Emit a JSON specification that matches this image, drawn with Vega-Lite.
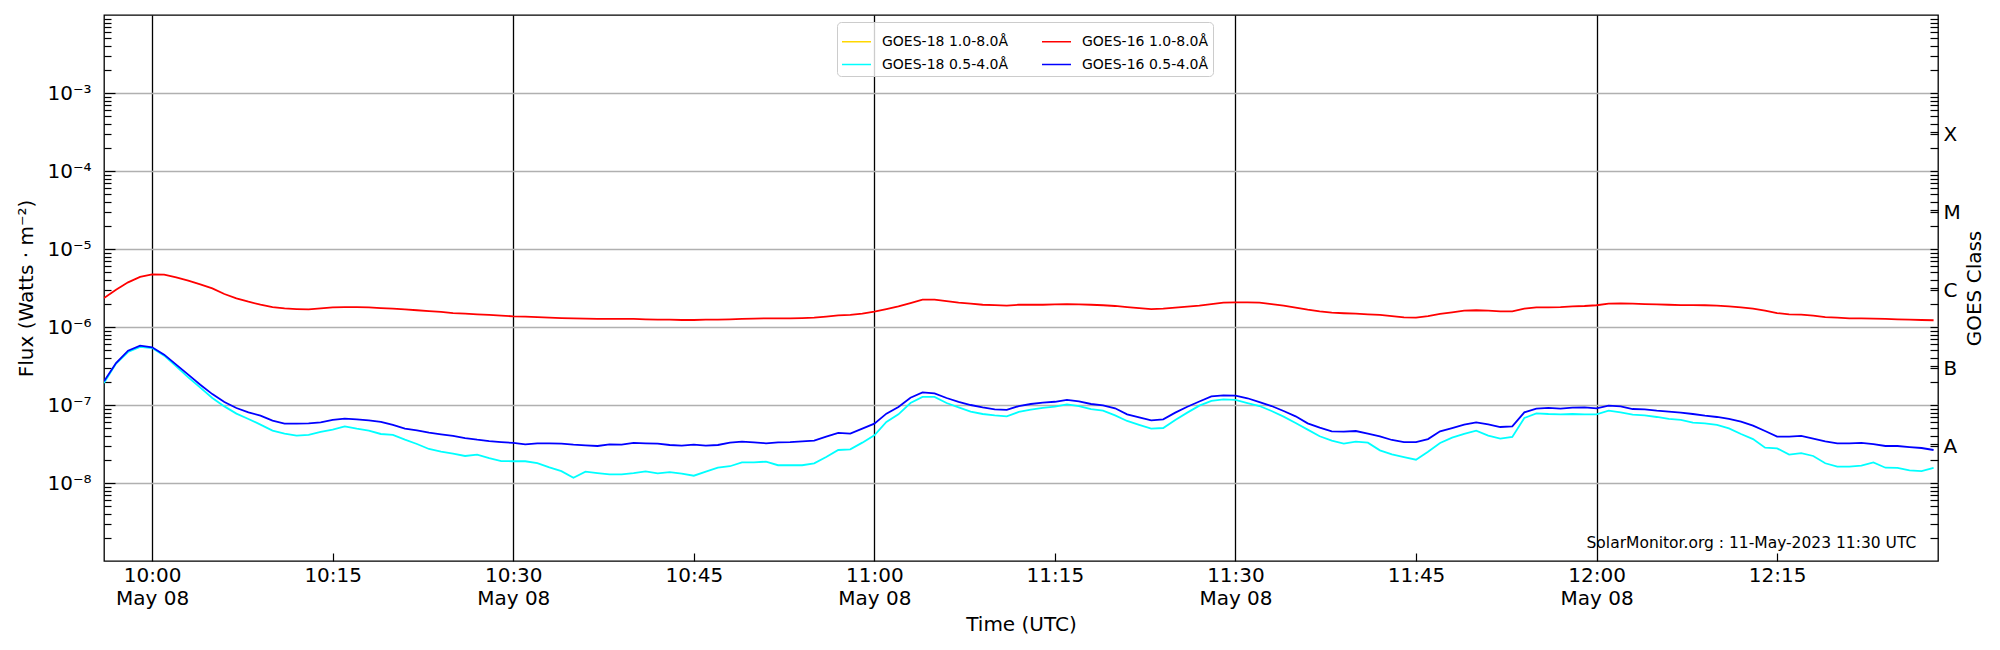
{
  "$schema": "https://vega.github.io/schema/vega-lite/v6.json",
  "width": 1834,
  "height": 546,
  "autosize": "none",
  "padding": {"left": 104, "top": 15, "right": 62, "bottom": 89},
  "background": "white",
  "config": {
    "font": "DejaVu Sans",
    "view": {"stroke": "black", "strokeWidth": 1.3},
    "axis": {
      "labelFont": "DejaVu Sans",
      "titleFont": "DejaVu Sans",
      "labelFontSize": 20,
      "titleFontSize": 20,
      "titleFontWeight": "normal",
      "labelColor": "black",
      "titleColor": "black",
      "tickColor": "black",
      "tickWidth": 1.2,
      "domain": false,
      "labelOverlap": false,
      "labelFlush": false
    },
    "legend": {
      "labelFont": "DejaVu Sans",
      "labelFontSize": 14,
      "labelColor": "black"
    }
  },
  "data": {
    "values": [
      {"t": "2023-05-08T09:56:00Z", "g16l": 2.35e-6, "g16s": 2.01e-7, "g18s": 1.91e-7},
      {"t": "2023-05-08T09:57:00Z", "g16l": 3.01e-6, "g16s": 3.45e-7, "g18s": 3.39e-7},
      {"t": "2023-05-08T09:58:00Z", "g16l": 3.74e-6, "g16s": 4.97e-7, "g18s": 4.78e-7},
      {"t": "2023-05-08T09:59:00Z", "g16l": 4.38e-6, "g16s": 5.77e-7, "g18s": 5.55e-7},
      {"t": "2023-05-08T10:00:00Z", "g16l": 4.73e-6, "g16s": 5.49e-7, "g18s": 5.38e-7},
      {"t": "2023-05-08T10:01:00Z", "g16l": 4.69e-6, "g16s": 4.42e-7, "g18s": 4.29e-7},
      {"t": "2023-05-08T10:02:00Z", "g16l": 4.33e-6, "g16s": 3.29e-7, "g18s": 3.13e-7},
      {"t": "2023-05-08T10:03:00Z", "g16l": 3.93e-6, "g16s": 2.45e-7, "g18s": 2.26e-7},
      {"t": "2023-05-08T10:04:00Z", "g16l": 3.52e-6, "g16s": 1.82e-7, "g18s": 1.67e-7},
      {"t": "2023-05-08T10:05:00Z", "g16l": 3.13e-6, "g16s": 1.38e-7, "g18s": 1.23e-7},
      {"t": "2023-05-08T10:06:00Z", "g16l": 2.65e-6, "g16s": 1.09e-7, "g18s": 9.60e-8},
      {"t": "2023-05-08T10:07:00Z", "g16l": 2.33e-6, "g16s": 9.16e-8, "g18s": 7.75e-8},
      {"t": "2023-05-08T10:08:00Z", "g16l": 2.11e-6, "g16s": 8.06e-8, "g18s": 6.62e-8},
      {"t": "2023-05-08T10:09:00Z", "g16l": 1.93e-6, "g16s": 7.30e-8, "g18s": 5.60e-8},
      {"t": "2023-05-08T10:10:00Z", "g16l": 1.80e-6, "g16s": 6.30e-8, "g18s": 4.69e-8},
      {"t": "2023-05-08T10:11:00Z", "g16l": 1.73e-6, "g16s": 5.77e-8, "g18s": 4.29e-8},
      {"t": "2023-05-08T10:12:00Z", "g16l": 1.70e-6, "g16s": 5.77e-8, "g18s": 4.05e-8},
      {"t": "2023-05-08T10:13:00Z", "g16l": 1.68e-6, "g16s": 5.82e-8, "g18s": 4.13e-8},
      {"t": "2023-05-08T10:14:00Z", "g16l": 1.73e-6, "g16s": 6.00e-8, "g18s": 4.51e-8},
      {"t": "2023-05-08T10:15:00Z", "g16l": 1.79e-6, "g16s": 6.43e-8, "g18s": 4.83e-8},
      {"t": "2023-05-08T10:16:00Z", "g16l": 1.80e-6, "g16s": 6.68e-8, "g18s": 5.33e-8},
      {"t": "2023-05-08T10:17:00Z", "g16l": 1.80e-6, "g16s": 6.55e-8, "g18s": 4.97e-8},
      {"t": "2023-05-08T10:18:00Z", "g16l": 1.79e-6, "g16s": 6.36e-8, "g18s": 4.69e-8},
      {"t": "2023-05-08T10:19:00Z", "g16l": 1.75e-6, "g16s": 6.06e-8, "g18s": 4.25e-8},
      {"t": "2023-05-08T10:20:00Z", "g16l": 1.72e-6, "g16s": 5.55e-8, "g18s": 4.13e-8},
      {"t": "2023-05-08T10:21:00Z", "g16l": 1.68e-6, "g16s": 4.97e-8, "g18s": 3.59e-8},
      {"t": "2023-05-08T10:22:00Z", "g16l": 1.64e-6, "g16s": 4.73e-8, "g18s": 3.16e-8},
      {"t": "2023-05-08T10:23:00Z", "g16l": 1.60e-6, "g16s": 4.42e-8, "g18s": 2.73e-8},
      {"t": "2023-05-08T10:24:00Z", "g16l": 1.56e-6, "g16s": 4.21e-8, "g18s": 2.52e-8},
      {"t": "2023-05-08T10:25:00Z", "g16l": 1.51e-6, "g16s": 4.01e-8, "g18s": 2.38e-8},
      {"t": "2023-05-08T10:26:00Z", "g16l": 1.48e-6, "g16s": 3.77e-8, "g18s": 2.22e-8},
      {"t": "2023-05-08T10:27:00Z", "g16l": 1.45e-6, "g16s": 3.59e-8, "g18s": 2.31e-8},
      {"t": "2023-05-08T10:28:00Z", "g16l": 1.43e-6, "g16s": 3.45e-8, "g18s": 2.09e-8},
      {"t": "2023-05-08T10:29:00Z", "g16l": 1.40e-6, "g16s": 3.35e-8, "g18s": 1.91e-8},
      {"t": "2023-05-08T10:30:00Z", "g16l": 1.37e-6, "g16s": 3.26e-8, "g18s": 1.90e-8},
      {"t": "2023-05-08T10:31:00Z", "g16l": 1.36e-6, "g16s": 3.13e-8, "g18s": 1.90e-8},
      {"t": "2023-05-08T10:32:00Z", "g16l": 1.34e-6, "g16s": 3.23e-8, "g18s": 1.80e-8},
      {"t": "2023-05-08T10:33:00Z", "g16l": 1.32e-6, "g16s": 3.23e-8, "g18s": 1.59e-8},
      {"t": "2023-05-08T10:34:00Z", "g16l": 1.30e-6, "g16s": 3.20e-8, "g18s": 1.42e-8},
      {"t": "2023-05-08T10:35:00Z", "g16l": 1.29e-6, "g16s": 3.10e-8, "g18s": 1.17e-8},
      {"t": "2023-05-08T10:36:00Z", "g16l": 1.28e-6, "g16s": 3.04e-8, "g18s": 1.40e-8},
      {"t": "2023-05-08T10:37:00Z", "g16l": 1.27e-6, "g16s": 2.98e-8, "g18s": 1.34e-8},
      {"t": "2023-05-08T10:38:00Z", "g16l": 1.27e-6, "g16s": 3.13e-8, "g18s": 1.29e-8},
      {"t": "2023-05-08T10:39:00Z", "g16l": 1.27e-6, "g16s": 3.10e-8, "g18s": 1.29e-8},
      {"t": "2023-05-08T10:40:00Z", "g16l": 1.27e-6, "g16s": 3.26e-8, "g18s": 1.34e-8},
      {"t": "2023-05-08T10:41:00Z", "g16l": 1.25e-6, "g16s": 3.23e-8, "g18s": 1.41e-8},
      {"t": "2023-05-08T10:42:00Z", "g16l": 1.24e-6, "g16s": 3.20e-8, "g18s": 1.33e-8},
      {"t": "2023-05-08T10:43:00Z", "g16l": 1.24e-6, "g16s": 3.07e-8, "g18s": 1.38e-8},
      {"t": "2023-05-08T10:44:00Z", "g16l": 1.23e-6, "g16s": 3.01e-8, "g18s": 1.32e-8},
      {"t": "2023-05-08T10:45:00Z", "g16l": 1.23e-6, "g16s": 3.10e-8, "g18s": 1.24e-8},
      {"t": "2023-05-08T10:46:00Z", "g16l": 1.24e-6, "g16s": 3.01e-8, "g18s": 1.40e-8},
      {"t": "2023-05-08T10:47:00Z", "g16l": 1.24e-6, "g16s": 3.07e-8, "g18s": 1.57e-8},
      {"t": "2023-05-08T10:48:00Z", "g16l": 1.25e-6, "g16s": 3.29e-8, "g18s": 1.64e-8},
      {"t": "2023-05-08T10:49:00Z", "g16l": 1.27e-6, "g16s": 3.39e-8, "g18s": 1.84e-8},
      {"t": "2023-05-08T10:50:00Z", "g16l": 1.28e-6, "g16s": 3.32e-8, "g18s": 1.84e-8},
      {"t": "2023-05-08T10:51:00Z", "g16l": 1.29e-6, "g16s": 3.23e-8, "g18s": 1.88e-8},
      {"t": "2023-05-08T10:52:00Z", "g16l": 1.29e-6, "g16s": 3.32e-8, "g18s": 1.69e-8},
      {"t": "2023-05-08T10:53:00Z", "g16l": 1.29e-6, "g16s": 3.35e-8, "g18s": 1.69e-8},
      {"t": "2023-05-08T10:54:00Z", "g16l": 1.30e-6, "g16s": 3.42e-8, "g18s": 1.69e-8},
      {"t": "2023-05-08T10:55:00Z", "g16l": 1.32e-6, "g16s": 3.49e-8, "g18s": 1.79e-8},
      {"t": "2023-05-08T10:56:00Z", "g16l": 1.36e-6, "g16s": 3.93e-8, "g18s": 2.15e-8},
      {"t": "2023-05-08T10:57:00Z", "g16l": 1.41e-6, "g16s": 4.38e-8, "g18s": 2.65e-8},
      {"t": "2023-05-08T10:58:00Z", "g16l": 1.43e-6, "g16s": 4.29e-8, "g18s": 2.70e-8},
      {"t": "2023-05-08T10:59:00Z", "g16l": 1.48e-6, "g16s": 4.97e-8, "g18s": 3.29e-8},
      {"t": "2023-05-08T11:00:00Z", "g16l": 1.57e-6, "g16s": 5.77e-8, "g18s": 4.09e-8},
      {"t": "2023-05-08T11:01:00Z", "g16l": 1.70e-6, "g16s": 7.75e-8, "g18s": 6.06e-8},
      {"t": "2023-05-08T11:02:00Z", "g16l": 1.84e-6, "g16s": 9.42e-8, "g18s": 7.60e-8},
      {"t": "2023-05-08T11:03:00Z", "g16l": 2.03e-6, "g16s": 1.24e-7, "g18s": 1.06e-7},
      {"t": "2023-05-08T11:04:00Z", "g16l": 2.24e-6, "g16s": 1.45e-7, "g18s": 1.27e-7},
      {"t": "2023-05-08T11:05:00Z", "g16l": 2.24e-6, "g16s": 1.41e-7, "g18s": 1.27e-7},
      {"t": "2023-05-08T11:06:00Z", "g16l": 2.15e-6, "g16s": 1.23e-7, "g18s": 1.06e-7},
      {"t": "2023-05-08T11:07:00Z", "g16l": 2.05e-6, "g16s": 1.10e-7, "g18s": 9.34e-8},
      {"t": "2023-05-08T11:08:00Z", "g16l": 1.99e-6, "g16s": 1.00e-7, "g18s": 8.22e-8},
      {"t": "2023-05-08T11:09:00Z", "g16l": 1.93e-6, "g16s": 9.34e-8, "g18s": 7.67e-8},
      {"t": "2023-05-08T11:10:00Z", "g16l": 1.91e-6, "g16s": 8.80e-8, "g18s": 7.37e-8},
      {"t": "2023-05-08T11:11:00Z", "g16l": 1.88e-6, "g16s": 8.64e-8, "g18s": 7.16e-8},
      {"t": "2023-05-08T11:12:00Z", "g16l": 1.93e-6, "g16s": 9.70e-8, "g18s": 8.14e-8},
      {"t": "2023-05-08T11:13:00Z", "g16l": 1.93e-6, "g16s": 1.03e-7, "g18s": 8.72e-8},
      {"t": "2023-05-08T11:14:00Z", "g16l": 1.93e-6, "g16s": 1.07e-7, "g18s": 9.16e-8},
      {"t": "2023-05-08T11:15:00Z", "g16l": 1.95e-6, "g16s": 1.10e-7, "g18s": 9.51e-8},
      {"t": "2023-05-08T11:16:00Z", "g16l": 1.97e-6, "g16s": 1.16e-7, "g18s": 1.02e-7},
      {"t": "2023-05-08T11:17:00Z", "g16l": 1.95e-6, "g16s": 1.11e-7, "g18s": 9.70e-8},
      {"t": "2023-05-08T11:18:00Z", "g16l": 1.93e-6, "g16s": 1.03e-7, "g18s": 8.88e-8},
      {"t": "2023-05-08T11:19:00Z", "g16l": 1.90e-6, "g16s": 9.90e-8, "g18s": 8.45e-8},
      {"t": "2023-05-08T11:20:00Z", "g16l": 1.86e-6, "g16s": 9.07e-8, "g18s": 7.37e-8},
      {"t": "2023-05-08T11:21:00Z", "g16l": 1.80e-6, "g16s": 7.60e-8, "g18s": 6.24e-8},
      {"t": "2023-05-08T11:22:00Z", "g16l": 1.75e-6, "g16s": 6.95e-8, "g18s": 5.55e-8},
      {"t": "2023-05-08T11:23:00Z", "g16l": 1.70e-6, "g16s": 6.36e-8, "g18s": 4.97e-8},
      {"t": "2023-05-08T11:24:00Z", "g16l": 1.72e-6, "g16s": 6.55e-8, "g18s": 5.07e-8},
      {"t": "2023-05-08T11:25:00Z", "g16l": 1.77e-6, "g16s": 7.98e-8, "g18s": 6.43e-8},
      {"t": "2023-05-08T11:26:00Z", "g16l": 1.82e-6, "g16s": 9.51e-8, "g18s": 7.98e-8},
      {"t": "2023-05-08T11:27:00Z", "g16l": 1.88e-6, "g16s": 1.11e-7, "g18s": 9.80e-8},
      {"t": "2023-05-08T11:28:00Z", "g16l": 1.97e-6, "g16s": 1.29e-7, "g18s": 1.13e-7},
      {"t": "2023-05-08T11:29:00Z", "g16l": 2.05e-6, "g16s": 1.33e-7, "g18s": 1.18e-7},
      {"t": "2023-05-08T11:30:00Z", "g16l": 2.07e-6, "g16s": 1.32e-7, "g18s": 1.16e-7},
      {"t": "2023-05-08T11:31:00Z", "g16l": 2.07e-6, "g16s": 1.22e-7, "g18s": 1.06e-7},
      {"t": "2023-05-08T11:32:00Z", "g16l": 2.05e-6, "g16s": 1.09e-7, "g18s": 9.70e-8},
      {"t": "2023-05-08T11:33:00Z", "g16l": 1.97e-6, "g16s": 9.70e-8, "g18s": 8.37e-8},
      {"t": "2023-05-08T11:34:00Z", "g16l": 1.88e-6, "g16s": 8.37e-8, "g18s": 7.09e-8},
      {"t": "2023-05-08T11:35:00Z", "g16l": 1.77e-6, "g16s": 7.16e-8, "g18s": 5.88e-8},
      {"t": "2023-05-08T11:36:00Z", "g16l": 1.67e-6, "g16s": 5.82e-8, "g18s": 4.83e-8},
      {"t": "2023-05-08T11:37:00Z", "g16l": 1.59e-6, "g16s": 5.12e-8, "g18s": 3.97e-8},
      {"t": "2023-05-08T11:38:00Z", "g16l": 1.53e-6, "g16s": 4.60e-8, "g18s": 3.49e-8},
      {"t": "2023-05-08T11:39:00Z", "g16l": 1.50e-6, "g16s": 4.55e-8, "g18s": 3.20e-8},
      {"t": "2023-05-08T11:40:00Z", "g16l": 1.48e-6, "g16s": 4.64e-8, "g18s": 3.39e-8},
      {"t": "2023-05-08T11:41:00Z", "g16l": 1.45e-6, "g16s": 4.29e-8, "g18s": 3.29e-8},
      {"t": "2023-05-08T11:42:00Z", "g16l": 1.43e-6, "g16s": 3.97e-8, "g18s": 2.62e-8},
      {"t": "2023-05-08T11:43:00Z", "g16l": 1.38e-6, "g16s": 3.56e-8, "g18s": 2.33e-8},
      {"t": "2023-05-08T11:44:00Z", "g16l": 1.33e-6, "g16s": 3.35e-8, "g18s": 2.15e-8},
      {"t": "2023-05-08T11:45:00Z", "g16l": 1.32e-6, "g16s": 3.35e-8, "g18s": 1.99e-8},
      {"t": "2023-05-08T11:46:00Z", "g16l": 1.38e-6, "g16s": 3.66e-8, "g18s": 2.52e-8},
      {"t": "2023-05-08T11:47:00Z", "g16l": 1.47e-6, "g16s": 4.60e-8, "g18s": 3.26e-8},
      {"t": "2023-05-08T11:48:00Z", "g16l": 1.54e-6, "g16s": 5.07e-8, "g18s": 3.81e-8},
      {"t": "2023-05-08T11:49:00Z", "g16l": 1.62e-6, "g16s": 5.60e-8, "g18s": 4.25e-8},
      {"t": "2023-05-08T11:50:00Z", "g16l": 1.64e-6, "g16s": 6.00e-8, "g18s": 4.69e-8},
      {"t": "2023-05-08T11:51:00Z", "g16l": 1.62e-6, "g16s": 5.66e-8, "g18s": 4.05e-8},
      {"t": "2023-05-08T11:52:00Z", "g16l": 1.59e-6, "g16s": 5.22e-8, "g18s": 3.70e-8},
      {"t": "2023-05-08T11:53:00Z", "g16l": 1.59e-6, "g16s": 5.33e-8, "g18s": 3.89e-8},
      {"t": "2023-05-08T11:54:00Z", "g16l": 1.72e-6, "g16s": 8.06e-8, "g18s": 6.82e-8},
      {"t": "2023-05-08T11:55:00Z", "g16l": 1.79e-6, "g16s": 8.97e-8, "g18s": 7.83e-8},
      {"t": "2023-05-08T11:56:00Z", "g16l": 1.79e-6, "g16s": 9.16e-8, "g18s": 7.67e-8},
      {"t": "2023-05-08T11:57:00Z", "g16l": 1.80e-6, "g16s": 8.97e-8, "g18s": 7.60e-8},
      {"t": "2023-05-08T11:58:00Z", "g16l": 1.84e-6, "g16s": 9.25e-8, "g18s": 7.67e-8},
      {"t": "2023-05-08T11:59:00Z", "g16l": 1.86e-6, "g16s": 9.34e-8, "g18s": 7.60e-8},
      {"t": "2023-05-08T12:00:00Z", "g16l": 1.90e-6, "g16s": 9.07e-8, "g18s": 7.60e-8},
      {"t": "2023-05-08T12:01:00Z", "g16l": 1.99e-6, "g16s": 9.80e-8, "g18s": 8.45e-8},
      {"t": "2023-05-08T12:02:00Z", "g16l": 2.01e-6, "g16s": 9.60e-8, "g18s": 8.06e-8},
      {"t": "2023-05-08T12:03:00Z", "g16l": 1.99e-6, "g16s": 8.88e-8, "g18s": 7.52e-8},
      {"t": "2023-05-08T12:04:00Z", "g16l": 1.97e-6, "g16s": 8.80e-8, "g18s": 7.37e-8},
      {"t": "2023-05-08T12:05:00Z", "g16l": 1.95e-6, "g16s": 8.45e-8, "g18s": 7.02e-8},
      {"t": "2023-05-08T12:06:00Z", "g16l": 1.93e-6, "g16s": 8.22e-8, "g18s": 6.62e-8},
      {"t": "2023-05-08T12:07:00Z", "g16l": 1.91e-6, "g16s": 7.98e-8, "g18s": 6.43e-8},
      {"t": "2023-05-08T12:08:00Z", "g16l": 1.91e-6, "g16s": 7.67e-8, "g18s": 5.94e-8},
      {"t": "2023-05-08T12:09:00Z", "g16l": 1.90e-6, "g16s": 7.30e-8, "g18s": 5.82e-8},
      {"t": "2023-05-08T12:10:00Z", "g16l": 1.88e-6, "g16s": 7.02e-8, "g18s": 5.55e-8},
      {"t": "2023-05-08T12:11:00Z", "g16l": 1.84e-6, "g16s": 6.62e-8, "g18s": 5.02e-8},
      {"t": "2023-05-08T12:12:00Z", "g16l": 1.79e-6, "g16s": 6.12e-8, "g18s": 4.25e-8},
      {"t": "2023-05-08T12:13:00Z", "g16l": 1.72e-6, "g16s": 5.44e-8, "g18s": 3.66e-8},
      {"t": "2023-05-08T12:14:00Z", "g16l": 1.62e-6, "g16s": 4.64e-8, "g18s": 2.84e-8},
      {"t": "2023-05-08T12:15:00Z", "g16l": 1.51e-6, "g16s": 3.93e-8, "g18s": 2.78e-8},
      {"t": "2023-05-08T12:16:00Z", "g16l": 1.45e-6, "g16s": 3.93e-8, "g18s": 2.31e-8},
      {"t": "2023-05-08T12:17:00Z", "g16l": 1.44e-6, "g16s": 4.01e-8, "g18s": 2.42e-8},
      {"t": "2023-05-08T12:18:00Z", "g16l": 1.40e-6, "g16s": 3.70e-8, "g18s": 2.22e-8},
      {"t": "2023-05-08T12:19:00Z", "g16l": 1.34e-6, "g16s": 3.42e-8, "g18s": 1.79e-8},
      {"t": "2023-05-08T12:20:00Z", "g16l": 1.32e-6, "g16s": 3.23e-8, "g18s": 1.62e-8},
      {"t": "2023-05-08T12:21:00Z", "g16l": 1.29e-6, "g16s": 3.23e-8, "g18s": 1.62e-8},
      {"t": "2023-05-08T12:22:00Z", "g16l": 1.29e-6, "g16s": 3.26e-8, "g18s": 1.67e-8},
      {"t": "2023-05-08T12:23:00Z", "g16l": 1.28e-6, "g16s": 3.16e-8, "g18s": 1.84e-8},
      {"t": "2023-05-08T12:24:00Z", "g16l": 1.27e-6, "g16s": 2.98e-8, "g18s": 1.57e-8},
      {"t": "2023-05-08T12:25:00Z", "g16l": 1.25e-6, "g16s": 2.98e-8, "g18s": 1.56e-8},
      {"t": "2023-05-08T12:26:00Z", "g16l": 1.24e-6, "g16s": 2.89e-8, "g18s": 1.45e-8},
      {"t": "2023-05-08T12:27:00Z", "g16l": 1.23e-6, "g16s": 2.81e-8, "g18s": 1.42e-8},
      {"t": "2023-05-08T12:28:00Z", "g16l": 1.22e-6, "g16s": 2.65e-8, "g18s": 1.56e-8}
    ]
  },
  "resolve": {"scale": {"x": "shared", "y": "shared"}, "axis": {"x": "independent", "y": "independent"}},
  "layer": [
    {
      "transform": [{"fold": ["g18s", "g16l", "g16s"], "as": ["series", "value"]}],
      "mark": {"type": "line", "strokeWidth": 1.8, "clip": true},
      "encoding": {
        "x": {
          "field": "t",
          "type": "temporal",
          "scale": {
            "type": "utc",
            "nice": false,
            "domain": [
              {"year": 2023, "month": 5, "date": 8, "hours": 9, "minutes": 56, "utc": true},
              {"year": 2023, "month": 5, "date": 8, "hours": 12, "minutes": 28, "seconds": 22, "utc": true}
            ]
          },
          "axis": {
            "orient": "bottom",
            "values": [
              {"year": 2023, "month": 5, "date": 8, "hours": 10, "minutes": 0, "utc": true},
              {"year": 2023, "month": 5, "date": 8, "hours": 10, "minutes": 15, "utc": true},
              {"year": 2023, "month": 5, "date": 8, "hours": 10, "minutes": 30, "utc": true},
              {"year": 2023, "month": 5, "date": 8, "hours": 10, "minutes": 45, "utc": true},
              {"year": 2023, "month": 5, "date": 8, "hours": 11, "minutes": 0, "utc": true},
              {"year": 2023, "month": 5, "date": 8, "hours": 11, "minutes": 15, "utc": true},
              {"year": 2023, "month": 5, "date": 8, "hours": 11, "minutes": 30, "utc": true},
              {"year": 2023, "month": 5, "date": 8, "hours": 11, "minutes": 45, "utc": true},
              {"year": 2023, "month": 5, "date": 8, "hours": 12, "minutes": 0, "utc": true},
              {"year": 2023, "month": 5, "date": 8, "hours": 12, "minutes": 15, "utc": true}
            ],
            "labelExpr": "utcminutes(datum.value) % 30 == 0 ? [utcFormat(datum.value, '%H:%M'), 'May 08'] : utcFormat(datum.value, '%H:%M')",
            "labelLineHeight": 23,
            "labelPadding": 4,
            "ticks": false,
            "grid": true,
            "gridColor": "black",
            "gridWidth": 1.3,
            "gridOpacity": {"condition": {"test": "utcminutes(datum.value) % 30 == 0", "value": 1}, "value": 0},
            "title": "Time (UTC)",
            "titlePadding": 6
          }
        },
        "y": {
          "field": "value",
          "type": "quantitative",
          "scale": {"type": "log", "domain": [1e-9, 1e-2], "nice": false},
          "axis": {
            "orient": "left",
            "values": [1e-8, 1e-7, 1e-6, 1e-5, 1e-4, 1e-3],
            "labelExpr": "'10⁻' + ['⁰','¹','²','³','⁴','⁵','⁶','⁷','⁸','⁹'][-round(log(datum.value) / LN10)]",
            "grid": true,
            "gridColor": "#b0b0b0",
            "gridWidth": 1.3,
            "ticks": false,
            "labelPadding": 13,
            "title": "Flux (Watts · m⁻²)",
            "titlePadding": 10
          }
        },
        "color": {
          "field": "series",
          "type": "nominal",
          "scale": {
            "domain": ["g18l", "g18s", "g16l", "g16s"],
            "range": ["#ffd700", "#00ffff", "#ff0000", "#0000ff"]
          },
          "legend": {
            "orient": "none",
            "legendX": 733,
            "legendY": 7,
            "columns": 2,
            "title": null,
            "labelExpr": "{'g18l': 'GOES-18 1.0-8.0Å', 'g16l': 'GOES-16 1.0-8.0Å', 'g18s': 'GOES-18 0.5-4.0Å', 'g16s': 'GOES-16 0.5-4.0Å'}[datum.label]",
            "symbolType": "stroke",
            "symbolSize": 841,
            "symbolStrokeWidth": 1.5,
            "columnPadding": 30,
            "rowPadding": -1,
            "labelOffset": 10,
            "padding": 4,
            "strokeColor": "#cccccc",
            "cornerRadius": 4,
            "fillColor": "rgba(255,255,255,0.8)"
          }
        }
      }
    },
    {
      "mark": {"type": "line", "strokeOpacity": 0},
      "encoding": {
        "x": {
          "field": "t",
          "type": "temporal",
          "axis": {
            "orient": "bottom",
            "values": [
              {"year": 2023, "month": 5, "date": 8, "hours": 10, "minutes": 15, "utc": true},
              {"year": 2023, "month": 5, "date": 8, "hours": 10, "minutes": 45, "utc": true},
              {"year": 2023, "month": 5, "date": 8, "hours": 11, "minutes": 15, "utc": true},
              {"year": 2023, "month": 5, "date": 8, "hours": 11, "minutes": 45, "utc": true},
              {"year": 2023, "month": 5, "date": 8, "hours": 12, "minutes": 15, "utc": true}
            ],
            "labels": false,
            "grid": false,
            "tickSize": 8,
            "offset": -8,
            "title": null
          }
        },
        "y": {"field": "g16l", "type": "quantitative", "axis": null}
      }
    },
    {
      "mark": {"type": "line", "strokeOpacity": 0},
      "encoding": {
        "x": {"field": "t", "type": "temporal", "axis": null},
        "y": {
          "field": "g16l",
          "type": "quantitative",
          "axis": {
            "orient": "left",
            "values": [1e-8, 1e-7, 1e-6, 1e-5, 1e-4, 1e-3],
            "labels": false,
            "grid": false,
            "tickSize": 11,
            "offset": -11,
            "title": null
          }
        }
      }
    },
    {
      "mark": {"type": "line", "strokeOpacity": 0},
      "encoding": {
        "x": {"field": "t", "type": "temporal", "axis": null},
        "y": {
          "field": "g16l",
          "type": "quantitative",
          "axis": {
            "orient": "left",
            "values": [2e-9, 3e-9, 4e-9, 5e-9, 6e-9, 7e-9, 8e-9, 9e-9, 2e-8, 3e-8, 4e-8, 5e-8, 6e-8, 7e-8, 8e-8, 9e-8, 2e-7, 3e-7, 4e-7, 5e-7, 6e-7, 7e-7, 8e-7, 9e-7, 2e-6, 3e-6, 4e-6, 5e-6, 6e-6, 7e-6, 8e-6, 9e-6, 2e-5, 3e-5, 4e-5, 5e-5, 6e-5, 7e-5, 8e-5, 9e-5, 2e-4, 3e-4, 4e-4, 5e-4, 6e-4, 7e-4, 8e-4, 9e-4, 2e-3, 3e-3, 4e-3, 5e-3, 6e-3, 7e-3, 8e-3, 9e-3],
            "labels": false,
            "grid": false,
            "tickSize": 7,
            "offset": -7,
            "title": null
          }
        }
      }
    },
    {
      "mark": {"type": "line", "strokeOpacity": 0},
      "encoding": {
        "x": {"field": "t", "type": "temporal", "axis": null},
        "y": {
          "field": "g16l",
          "type": "quantitative",
          "axis": {
            "orient": "right",
            "values": [3.1623e-8, 3.1623e-7, 3.1623e-6, 3.1623e-5, 3.1623e-4],
            "labelExpr": "['A','B','C','M','X'][round(log(datum.value) / LN10 - 0.5) + 8]",
            "grid": false,
            "ticks": false,
            "labelPadding": 5,
            "labelOffset": 3,
            "title": "GOES Class",
            "titleAngle": 270,
            "titleBaseline": "top",
            "titlePadding": 4
          }
        }
      }
    },
    {
      "mark": {"type": "line", "strokeOpacity": 0},
      "encoding": {
        "x": {"field": "t", "type": "temporal", "axis": null},
        "y": {
          "field": "g16l",
          "type": "quantitative",
          "axis": {
            "orient": "right",
            "values": [2e-9, 3e-9, 4e-9, 5e-9, 6e-9, 7e-9, 8e-9, 9e-9, 1e-8, 2e-8, 3e-8, 3.1623e-8, 4e-8, 5e-8, 6e-8, 7e-8, 8e-8, 9e-8, 1e-7, 2e-7, 3e-7, 3.1623e-7, 4e-7, 5e-7, 6e-7, 7e-7, 8e-7, 9e-7, 1e-6, 2e-6, 3e-6, 3.1623e-6, 4e-6, 5e-6, 6e-6, 7e-6, 8e-6, 9e-6, 1e-5, 2e-5, 3e-5, 3.1623e-5, 4e-5, 5e-5, 6e-5, 7e-5, 8e-5, 9e-5, 1e-4, 2e-4, 3e-4, 3.1623e-4, 4e-4, 5e-4, 6e-4, 7e-4, 8e-4, 9e-4, 1e-3, 2e-3, 3e-3, 4e-3, 5e-3, 6e-3, 7e-3, 8e-3, 9e-3],
            "labels": false,
            "grid": false,
            "tickSize": 8,
            "offset": -8,
            "title": null
          }
        }
      }
    },
    {
      "data": {"values": [{"note": "SolarMonitor.org : 11-May-2023 11:30 UTC"}]},
      "mark": {"type": "text", "align": "right", "baseline": "middle", "fontSize": 15.5, "font": "DejaVu Sans", "color": "black"},
      "encoding": {
        "x": {
          "datum": {"year": 2023, "month": 5, "date": 8, "hours": 12, "minutes": 26, "seconds": 34, "utc": true},
          "type": "temporal",
          "axis": null
        },
        "y": {"datum": 1.72e-9, "type": "quantitative", "axis": null},
        "text": {"field": "note"}
      }
    }
  ]
}
